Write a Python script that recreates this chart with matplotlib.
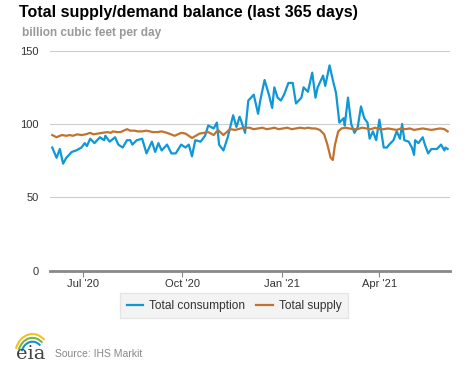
import numpy as np
import pandas as pd
import matplotlib
matplotlib.use("Agg")
import matplotlib.pyplot as plt
import matplotlib.dates as mdates
from matplotlib.patches import Arc

# consumption (billion cubic feet per day)
cons_dates = ["2020-06-03", "2020-06-07", "2020-06-10", "2020-06-13", "2020-06-16", "2020-06-21",
              "2020-06-25", "2020-06-30", "2020-07-03", "2020-07-05", "2020-07-08", "2020-07-12",
              "2020-07-17", "2020-07-21", "2020-07-22", "2020-07-26", "2020-07-31", "2020-08-03",
              "2020-08-07", "2020-08-11", "2020-08-14", "2020-08-16", "2020-08-20", "2020-08-25",
              "2020-08-29", "2020-09-03", "2020-09-06", "2020-09-09", "2020-09-12", "2020-09-17",
              "2020-09-21", "2020-09-25", "2020-09-30", "2020-10-04", "2020-10-07", "2020-10-10",
              "2020-10-13", "2020-10-18", "2020-10-22", "2020-10-25", "2020-10-30", "2020-11-02",
              "2020-11-04", "2020-11-08", "2020-11-12", "2020-11-15", "2020-11-17", "2020-11-20",
              "2020-11-23", "2020-11-24", "2020-11-28", "2020-12-01", "2020-12-06", "2020-12-10",
              "2020-12-12", "2020-12-16", "2020-12-20", "2020-12-23", "2020-12-25", "2020-12-28",
              "2020-12-31", "2021-01-03", "2021-01-07", "2021-01-11", "2021-01-14", "2021-01-19",
              "2021-01-21", "2021-01-25", "2021-01-29", "2021-02-01", "2021-02-03", "2021-02-08",
              "2021-02-10", "2021-02-14", "2021-02-17", "2021-02-20", "2021-02-23", "2021-02-27",
              "2021-02-28", "2021-03-03", "2021-03-06", "2021-03-09", "2021-03-12", "2021-03-15",
              "2021-03-18", "2021-03-21", "2021-03-23", "2021-03-26", "2021-03-29", "2021-04-01",
              "2021-04-05", "2021-04-08", "2021-04-10", "2021-04-14", "2021-04-17", "2021-04-20",
              "2021-04-22", "2021-04-24", "2021-04-28", "2021-05-01", "2021-05-03", "2021-05-04",
              "2021-05-07", "2021-05-11", "2021-05-13", "2021-05-16", "2021-05-19", "2021-05-24",
              "2021-05-28", "2021-05-31", "2021-06-01", "2021-06-03"]
cons_values = [84, 77, 83, 73, 77, 81,
               82, 84, 87, 85, 90, 87,
               91, 89, 92, 88, 91, 86,
               84, 89, 89, 86, 89, 90,
               80, 88, 81, 87, 82, 86,
               80, 80, 86, 84, 86, 78,
               89, 88, 92, 99, 97, 101,
               86, 82, 91, 100, 106, 98,
               105, 103, 94, 116, 120, 107,
               116, 130, 120, 111, 125, 118,
               116, 120, 128, 128, 114, 118,
               125, 122, 135, 118, 125, 133,
               126, 140, 130, 121, 101, 104,
               99, 118, 100, 94, 98, 112,
               104, 101, 90, 95, 89, 103,
               84, 84, 86, 89, 95, 90,
               100, 89, 88, 84, 79, 89,
               87, 91, 86, 80, 83, 83,
               86, 82, 84, 83]

# total supply
supply_dates = ["2020-06-03", "2020-06-07", "2020-06-10", "2020-06-12", "2020-06-16", "2020-06-19",
                "2020-06-22", "2020-06-26", "2020-06-30", "2020-07-04", "2020-07-08", "2020-07-11",
                "2020-07-15", "2020-07-19", "2020-07-24", "2020-07-27", "2020-07-29", "2020-08-02",
                "2020-08-05", "2020-08-11", "2020-08-14", "2020-08-18", "2020-08-21", "2020-08-25",
                "2020-08-29", "2020-09-01", "2020-09-04", "2020-09-08", "2020-09-12", "2020-09-17",
                "2020-09-24", "2020-09-30", "2020-10-04", "2020-10-10", "2020-10-17", "2020-10-21",
                "2020-10-25", "2020-10-30", "2020-11-03", "2020-11-08", "2020-11-14", "2020-11-19",
                "2020-11-24", "2020-11-28", "2020-12-02", "2020-12-06", "2020-12-10", "2020-12-14",
                "2020-12-18", "2020-12-22", "2020-12-25", "2020-12-29", "2021-01-02", "2021-01-06",
                "2021-01-10", "2021-01-14", "2021-01-18", "2021-01-22", "2021-01-25", "2021-01-29",
                "2021-02-01", "2021-02-05", "2021-02-09", "2021-02-12", "2021-02-15", "2021-02-17",
                "2021-02-19", "2021-02-22", "2021-02-25", "2021-03-01", "2021-03-04", "2021-03-08",
                "2021-03-12", "2021-03-16", "2021-03-20", "2021-03-24", "2021-03-28", "2021-04-01",
                "2021-04-05", "2021-04-09", "2021-04-13", "2021-04-17", "2021-04-21", "2021-04-25",
                "2021-04-29", "2021-05-03", "2021-05-07", "2021-05-11", "2021-05-15", "2021-05-19",
                "2021-05-23", "2021-05-27", "2021-05-31", "2021-06-03"]
supply_values = [92.5, 91, 92, 92.5, 92, 92.5,
                 92, 93, 92.5, 93, 94, 93,
                 93.5, 94, 94.5, 94, 95, 94.5,
                 94.5, 96.5, 95.5, 95.5, 95, 95,
                 95.5, 95, 94.5, 94.5, 95, 94,
                 92, 94, 93.5, 90.5, 93.5, 94,
                 94.5, 92.5, 96, 92.5, 96.5, 96,
                 97, 97.5, 97.5, 96.5, 97, 97.5,
                 96.5, 97, 97.5, 96.5, 97, 97.5,
                 96.5, 97, 97.5, 97, 97.5, 97,
                 97, 96, 93, 86, 77, 75.5,
                 86, 95, 97, 97.5, 97, 96.5,
                 96.5, 97.5, 97, 96.5, 97.5, 96.5,
                 96.5, 97, 96.5, 96, 97, 96.5,
                 97, 96, 96.5, 97, 96.5, 96,
                 96.5, 97, 96.5, 95]

yticks = [0, 50, 100, 150]

cons = pd.Series(cons_values, index=pd.to_datetime(cons_dates))
supply = pd.Series(supply_values, index=pd.to_datetime(supply_dates))

plt.rcParams['font.family'] = ['Liberation Sans', 'DejaVu Sans']

fig = plt.figure(figsize=(4.77, 3.67), dpi=100)
ax = fig.add_axes([0.105, 0.262, 0.838, 0.600])

ax.plot(cons.index, cons.values, color='#0f97d6', lw=1.6, label='Total consumption')
ax.plot(supply.index, supply.values, color='#c0732f', lw=1.6, label='Total supply')

ax.set_ylim(0, 150)
ax.set_yticks(yticks)
ax.set_xlim(pd.Timestamp('2020-06-01'), pd.Timestamp('2021-06-05'))
ax.xaxis.set_major_locator(mdates.MonthLocator(bymonth=[1, 4, 7, 10]))
ax.xaxis.set_major_formatter(mdates.DateFormatter("%b '%y"))
ax.grid(axis='y', color='#cccccc', lw=0.8)
ax.set_axisbelow(True)
for s in ['top', 'right', 'left']:
    ax.spines[s].set_visible(False)
ax.spines['bottom'].set_color('#888888')
ax.spines['bottom'].set_linewidth(2)
ax.tick_params(axis='y', length=0, labelsize=8, labelcolor='#333333', pad=8)
ax.tick_params(axis='x', length=4, color='#888888', labelsize=8, labelcolor='#333333', pad=2)

leg = ax.legend(loc='upper center', bbox_to_anchor=(0.46, -0.075), ncol=2, frameon=True,
                fontsize=8.6, handlelength=1.4, columnspacing=0.9, handletextpad=0.5,
                borderpad=0.55, fancybox=False)
leg.get_frame().set_facecolor('#f0f0f0')
leg.get_frame().set_edgecolor('#e0e0e0')
for t in leg.get_texts():
    t.set_color('#333333')

fig.text(0.040, 0.965, 'Total supply/demand balance (last 365 days)', fontsize=11.5,
         fontweight='bold', va='center', color='black')
fig.text(0.046, 0.910, 'billion cubic feet per day', fontsize=8.5, fontweight='bold',
         va='center', color='#999999')

# eia logo + source
fig.text(0.034, 0.010, 'eia', fontsize=14, family='DejaVu Serif', color='#444444', va='bottom')
for r, c in [(0.046, '#f2c21b'), (0.038, '#7cb342'), (0.030, '#1a8fd0')]:
    fig.add_artist(Arc((0.068, 0.030), r * 1.6, r * 2.6, theta1=60, theta2=150,
                       transform=fig.transFigure, color=c, lw=1.5))
fig.text(0.115, 0.022, 'Source: IHS Markit', fontsize=7.5, color='#888888', va='bottom')

fig.savefig('out.png', dpi=100)
